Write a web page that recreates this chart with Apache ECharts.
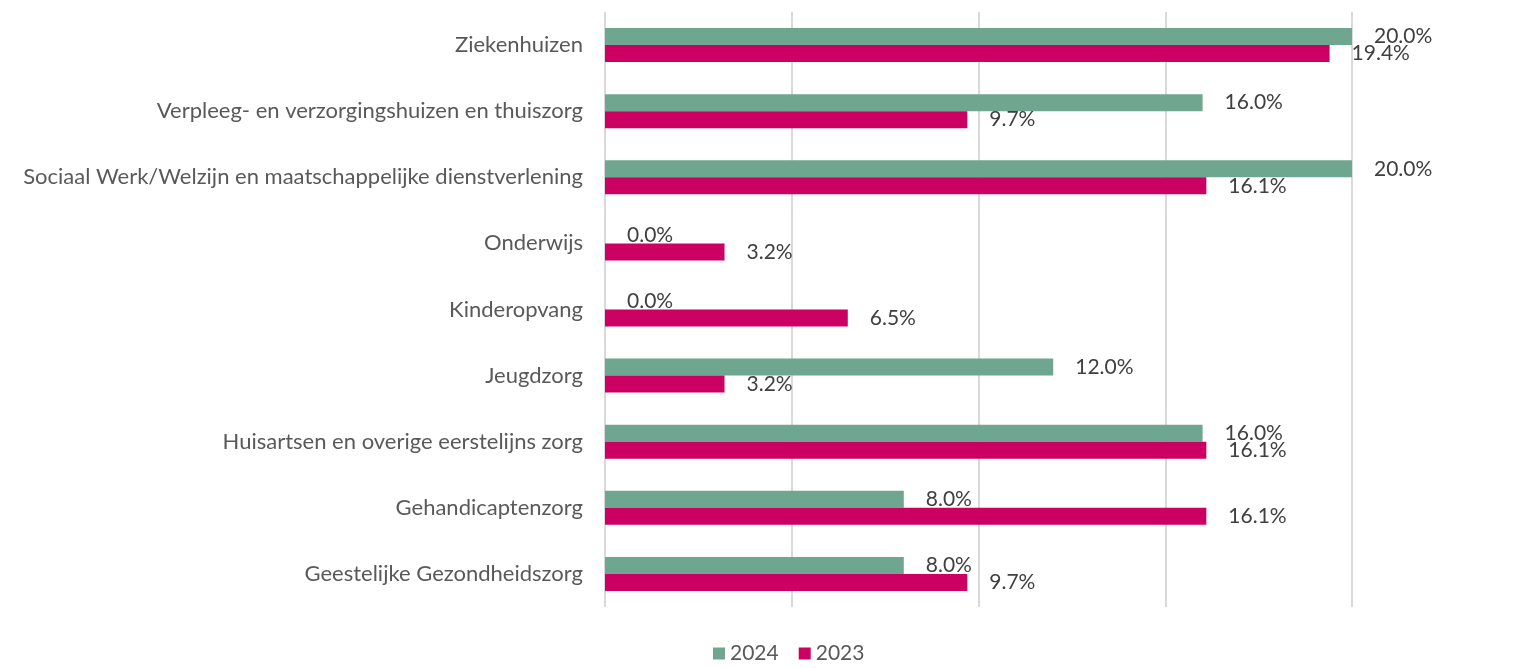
<!DOCTYPE html>
<html><head><meta charset="utf-8">
<script src="https://cdn.jsdelivr.net/npm/echarts@6/dist/echarts.min.js"></script>
<style>html,body{margin:0;padding:0;background:#fff}#c{width:1516px;height:668px}</style>
</head><body><div id="c"></div>
<script>
const categories = ["Ziekenhuizen","Verpleeg- en verzorgingshuizen en thuiszorg","Sociaal Werk/Welzijn en maatschappelijke dienstverlening","Onderwijs","Kinderopvang","Jeugdzorg","Huisartsen en overige eerstelijns zorg","Gehandicaptenzorg","Geestelijke Gezondheidszorg"];
const values2024 = [20.0,16.0,20.0,0.0,0.0,12.0,16.0,8.0,8.0];
const values2023 = [19.4,9.7,16.1,3.2,6.5,3.2,16.1,16.1,9.7];
const seriesNames = ["2024","2023"];
const FONT = 'Lato';
const chart = echarts.init(document.getElementById('c'));
const lbl = {show:true,position:'right',distance:22,color:'#404040',fontSize:21,fontFamily:FONT,formatter:p=>p.value.toFixed(1)+'%'};
chart.setOption({
  animation:false,
  grid:{left:605,right:164,top:12,bottom:61},
  xAxis:{type:'value',min:0,max:20,interval:5,axisLabel:{show:false},axisLine:{show:false},axisTick:{show:false},
    splitLine:{show:true,lineStyle:{color:'#d9d9d9',width:2}}},
  yAxis:{type:'category',data:categories,inverse:true,axisLine:{show:false},axisTick:{show:false},
    axisLabel:{color:'#595959',fontSize:22,fontFamily:FONT,margin:22}},
  legend:{bottom:-1,left:708,itemWidth:12,itemHeight:12,itemGap:20,icon:'rect',
    textStyle:{color:'#595959',fontSize:21,fontFamily:FONT},data:seriesNames},
  series:[
    {name:seriesNames[0],type:'bar',data:values2024,barWidth:17,barGap:'0%',itemStyle:{color:'#6fa690'},label:lbl},
    {name:seriesNames[1],type:'bar',data:values2023,barWidth:17,barGap:'0%',itemStyle:{color:'#cc0062'},label:lbl}
  ]
});
</script></body></html>
